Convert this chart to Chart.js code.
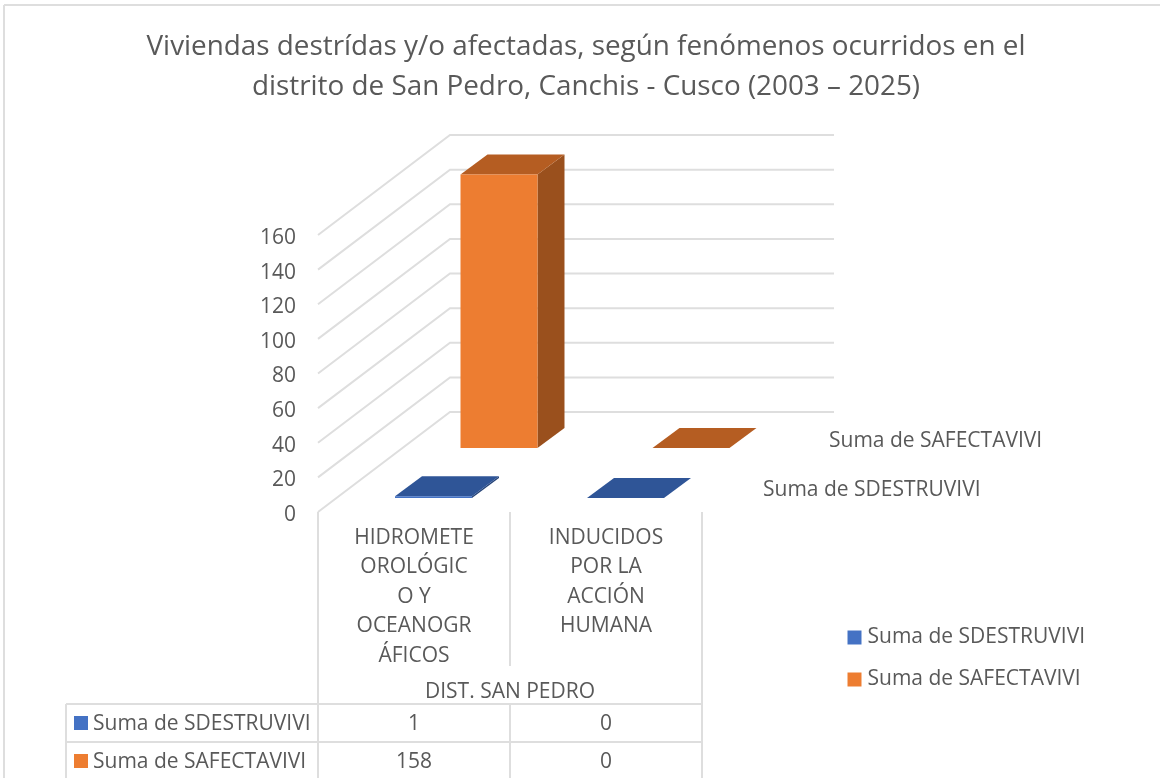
<!DOCTYPE html>
<html lang="es">
<head>
<meta charset="utf-8">
<title>Viviendas destruidas y/o afectadas</title>
<script src="https://cdn.jsdelivr.net/npm/chart.js@4"></script>
<style>
  html, body { margin: 0; background: #fff; }
  canvas { display: block; }
</style>
</head>
<body>
<canvas id="grafico" width="1160" height="778"></canvas>
<script>
const categorias = [
  ['HIDROMETE', 'OROLÓGIC', 'O Y', 'OCEANOGR', 'ÁFICOS'],
  ['INDUCIDOS', 'POR LA', 'ACCIÓN', 'HUMANA']
];
const destruidas = [1, 0];
const afectadas = [158, 0];
const titulo = [
  'Viviendas destrídas y/o afectadas, según fenómenos ocurridos en el',
  'distrito de San Pedro, Canchis - Cusco (2003 – 2025)'
];
const grupo = 'DIST. SAN PEDRO';
const nombreDestruidas = 'Suma de SDESTRUVIVI';
const nombreAfectadas = 'Suma de SAFECTAVIVI';

const FUENTE = '"Open Sans", sans-serif';
const TEXTO = '#595959';
const LINEA = '#dedede';

// profundidad del piso en pixeles (efecto 3D)
const PISO_X = 132;
const PISO_Y = 100;

// cada serie: desplazamiento de su fila y colores de caras
const caras3d = [
  { dx: 19.5, dy: 14, fondoX: 27, fondoY: 20, arriba: '#2f5597', lado: '#264478' },
  { dx: 85, dy: 64, fondoX: 27, fondoY: 20, arriba: '#b55d22', lado: '#9a501d' }
];

function poligono(ctx, puntos, color) {
  ctx.fillStyle = color;
  ctx.beginPath();
  puntos.forEach((p, i) => i ? ctx.lineTo(p[0], p[1]) : ctx.moveTo(p[0], p[1]));
  ctx.closePath();
  ctx.fill();
}

function linea(ctx, x1, y1, x2, y2) {
  ctx.beginPath();
  ctx.moveTo(x1, y1);
  ctx.lineTo(x2, y2);
  ctx.stroke();
}

const plugin3d = {
  id: 'plugin3d',
  afterLayout(chart) {
    // la leyenda va abajo a la derecha, fuera del area del grafico
    const leyenda = chart.legend;
    const ancho = leyenda.width;
    const alto = leyenda.height;
    leyenda.left = 831;
    leyenda.right = 831 + ancho;
    leyenda.top = 606;
    leyenda.bottom = 606 + alto;

    // el titulo se centra en toda la hoja, no solo en el area del grafico
    chart.titleBlock.left = 0;
    chart.titleBlock.right = 1172;

    // las etiquetas del eje y van un poco mas abajo que la linea
    chart.scales.y.getLabelItems(chart.chartArea).forEach(item => { item.textOffset += 3; });
  },
  beforeDatasetsDraw(chart) {
    const { ctx, chartArea, scales } = chart;
    ctx.save();
    ctx.strokeStyle = LINEA;
    ctx.lineWidth = 2;
    // marco
    linea(ctx, 4, 5, 1160, 5);
    linea(ctx, 4, 5, 4, 778);
    // paredes
    scales.y.ticks.forEach(t => {
      const y = scales.y.getPixelForValue(t.value);
      ctx.beginPath();
      ctx.moveTo(chartArea.left, y);
      ctx.lineTo(chartArea.left + PISO_X, y - PISO_Y);
      ctx.lineTo(chartArea.right + PISO_X, y - PISO_Y);
      ctx.stroke();
    });
    ctx.restore();
  },
  beforeDatasetDraw(chart, args) {
    const { ctx } = chart;
    const c = caras3d[args.index];
    ctx.save();
    ctx.translate(c.dx, -c.dy);
    args.meta.data.forEach(barra => {
      const izq = barra.x - barra.width / 2;
      const der = barra.x + barra.width / 2;
      poligono(ctx, [[der, barra.y], [der + c.fondoX, barra.y - c.fondoY],
        [der + c.fondoX, barra.base - c.fondoY], [der, barra.base]], c.lado);
      poligono(ctx, [[izq, barra.y], [izq + c.fondoX, barra.y - c.fondoY],
        [der + c.fondoX, barra.y - c.fondoY], [der, barra.y]], c.arriba);
    });
  },
  afterDatasetDraw(chart) {
    chart.ctx.restore();
  },
  afterDatasetsDraw(chart) {
    const { ctx, chartArea, scales, data } = chart;
    const { left, right, bottom } = chartArea;
    const medio = (left + right) / 2;
    const filas = [704, 742, 780];
    ctx.save();
    // rejilla de categorias y tabla de datos
    ctx.strokeStyle = LINEA;
    ctx.lineWidth = 2;
    linea(ctx, left, bottom, left, 778);
    linea(ctx, right, bottom, right, 778);
    linea(ctx, medio, bottom, medio, 666);
    linea(ctx, medio, filas[0], medio, 778);
    linea(ctx, 66, filas[0], right, filas[0]);
    linea(ctx, 66, filas[1], right, filas[1]);
    linea(ctx, 66, filas[0], 66, 778);

    ctx.font = '21px ' + FUENTE;
    ctx.textBaseline = 'middle';
    data.datasets.forEach((d, i) => {
      const y = (filas[i] + filas[i + 1]) / 2;
      ctx.fillStyle = d.backgroundColor;
      ctx.fillRect(74, y - 7, 14, 14);
      ctx.fillStyle = TEXTO;
      ctx.textAlign = 'left';
      ctx.fillText(d.label, 93, y + 1);
      ctx.textAlign = 'center';
      d.data.forEach((v, j) => ctx.fillText(String(v), scales.x.getPixelForValue(j), y + 1));
    });

    // nombres de serie sobre el eje de profundidad
    ctx.textAlign = 'left';
    ctx.fillText(data.datasets[1].label, 829, 441);
    ctx.fillText(data.datasets[0].label, 763, 490);
    ctx.restore();
  }
};

new Chart(document.getElementById('grafico').getContext('2d'), {
  type: 'bar',
  data: {
    labels: categorias,
    datasets: [
      { label: nombreDestruidas, data: destruidas, backgroundColor: '#4472c4' },
      { label: nombreAfectadas, data: afectadas, backgroundColor: '#ed7d31' }
    ]
  },
  options: {
    responsive: false,
    animation: false,
    layout: { padding: { left: 0, right: 458, top: 0, bottom: 0 } },
    datasets: { bar: { grouped: false, categoryPercentage: 1, barPercentage: 0.401, borderWidth: 0 } },
    scales: {
      x: {
        afterFit(scale) { scale.height = 266; },
        grid: { display: false, drawTicks: false },
        border: { display: false },
        ticks: {
          autoSkip: false,
          maxRotation: 0,
          minRotation: 0,
          padding: 11,
          color: TEXTO,
          font: { family: FUENTE, size: 21, lineHeight: 29.5 / 21 }
        },
        title: {
          display: true,
          text: grupo,
          color: TEXTO,
          font: { family: FUENTE, size: 21 },
          padding: { top: 0, bottom: 73 }
        }
      },
      y: {
        min: 0,
        max: 160,
        afterFit(scale) { scale.width = 318; },
        grid: { display: false, drawTicks: false },
        border: { display: false },
        ticks: {
          stepSize: 20,
          padding: 22,
          color: TEXTO,
          font: { family: FUENTE, size: 21 }
        }
      }
    },
    plugins: {
      tooltip: { enabled: false },
      title: {
        display: true,
        text: titulo,
        color: TEXTO,
        font: { family: FUENTE, size: 27.85, weight: 'normal', lineHeight: 40 / 27.85 },
        padding: { top: 27, bottom: 128 }
      },
      legend: {
        position: 'chartArea',
        align: 'start',
        labels: {
          boxWidth: 5,
          boxHeight: 5,
          padding: 21,
          color: TEXTO,
          font: { family: FUENTE, size: 21 },
          generateLabels(chart) {
            return Chart.defaults.plugins.legend.labels.generateLabels(chart).map(item => {
              item.strokeStyle = item.fillStyle;
              item.lineWidth = 9;
              return item;
            });
          }
        }
      }
    }
  },
  plugins: [plugin3d]
});
</script>
</body>
</html>
